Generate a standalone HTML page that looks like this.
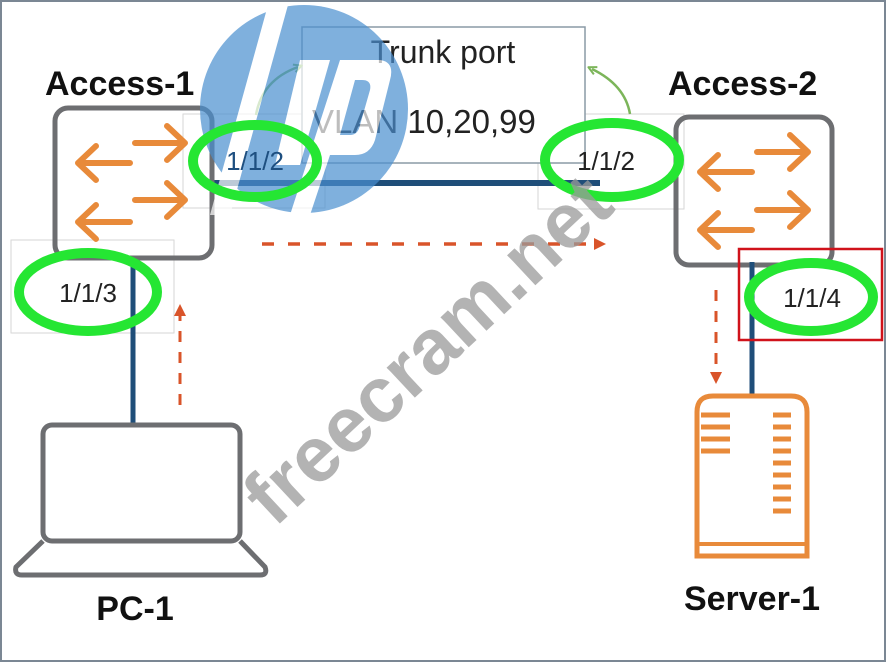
<!DOCTYPE html>
<html><head><meta charset="utf-8"><style>
html,body{margin:0;padding:0;background:#fff}
svg{display:block}
text{font-family:"Liberation Sans",sans-serif}
</style></head><body>
<svg width="886" height="662" viewBox="0 0 886 662" xmlns="http://www.w3.org/2000/svg">
<defs>
<marker id="ah" markerWidth="12" markerHeight="12" refX="6" refY="6" orient="auto" markerUnits="userSpaceOnUse" viewBox="0 0 12 12"><path d="M0,0 L12,6 L0,12 z" fill="#d9542a"/></marker>
<marker id="ag" markerWidth="10" markerHeight="10" refX="5" refY="5" orient="auto" markerUnits="userSpaceOnUse" viewBox="0 0 10 10"><path d="M1,1 L9,5 L1,9" fill="none" stroke="#7cb55a" stroke-width="2"/></marker>
</defs>
<rect x="1" y="1" width="884" height="660" fill="#fff" stroke="#7b8794" stroke-width="2"/>

<rect x="183" y="114" width="142" height="94" fill="none" stroke="#d6d6d6" stroke-width="1"/>
<rect x="538" y="114" width="146" height="95" fill="none" stroke="#d6d6d6" stroke-width="1"/>
<rect x="11" y="240" width="163" height="93" fill="none" stroke="#d6d6d6" stroke-width="1"/>

<rect x="302" y="27" width="283" height="136" fill="#fff" stroke="#8a9aa6" stroke-width="1.5"/>
<text x="443" y="63" font-size="32" text-anchor="middle" fill="#222">Trunk port</text>
<text x="312" y="133" font-size="33" fill="#222">VLAN 10,20,99</text>

<line x1="210" y1="183" x2="600" y2="183" stroke="#1f4e79" stroke-width="6"/>

<path d="M256,115 Q262,80 298,67" fill="none" stroke="#7cb55a" stroke-width="2.5" marker-end="url(#ag)"/>
<path d="M630,114 Q625,85 592,69" fill="none" stroke="#7cb55a" stroke-width="2.5" marker-end="url(#ag)"/>

<text x="45" y="95" font-size="34" font-weight="bold" fill="#111">Access-1</text>
<rect x="55" y="108" width="157" height="150" rx="13" fill="none" stroke="#6d6e71" stroke-width="5"/>
<g stroke="#e88a3a" stroke-width="6" fill="none" stroke-linecap="round" stroke-linejoin="round">
<path d="M135,143 H185 M167,126 L185,143 L167,160"/>
<path d="M130,163 H78 M96,146 L78,163 L96,180"/>
<path d="M135,200 H185 M167,183 L185,200 L167,217"/>
<path d="M130,222 H78 M96,205 L78,222 L96,239"/>
</g>
<text x="668" y="95" font-size="34" font-weight="bold" fill="#111">Access-2</text>
<rect x="676" y="117" width="156" height="148" rx="13" fill="none" stroke="#6d6e71" stroke-width="5"/>
<g stroke="#e88a3a" stroke-width="6" fill="none" stroke-linecap="round" stroke-linejoin="round">
<path d="M757,152 H808 M790,135 L808,152 L790,169"/>
<path d="M752,172 H700 M718,155 L700,172 L718,189"/>
<path d="M757,210 H808 M790,193 L808,210 L790,227"/>
<path d="M752,230 H700 M718,213 L700,230 L718,247"/>
</g>

<line x1="133" y1="258" x2="133" y2="425" stroke="#1f4e79" stroke-width="5"/>
<line x1="752" y1="262" x2="752" y2="395" stroke="#1f4e79" stroke-width="5"/>

<line x1="262" y1="244" x2="600" y2="244" stroke="#d9542a" stroke-width="3.5" stroke-dasharray="12,14" marker-end="url(#ah)"/>
<line x1="180" y1="405" x2="180" y2="310" stroke="#d9542a" stroke-width="3" stroke-dasharray="11,10" marker-end="url(#ah)"/>
<line x1="716" y1="290" x2="716" y2="378" stroke="#d9542a" stroke-width="3" stroke-dasharray="11,10" marker-end="url(#ah)"/>

<rect x="739" y="249" width="143" height="91" fill="none" stroke="#d0121b" stroke-width="2.5"/>

<!-- HP watermark -->
<g opacity="0.7">
<circle cx="304" cy="109" r="104" fill="#4a8fd0"/>
<path d="M268,5 L288,5 L230,215 L210,215 Z" fill="#fff"/>
<path d="M300,60 L330,60 L300,165 L275,165 Z" fill="#fff"/>
<path d="M340,60 L380,60 Q395,62 390,80 L375,140 Q370,155 355,155 L330,155 L310,215 L290,215 Z M355,80 L340,135 L350,135 Q358,135 360,125 L370,90 Q372,80 362,80 Z" fill="#fff" fill-rule="evenodd"/>
</g>

<g fill="none" stroke="#25e633" stroke-width="10">
<ellipse cx="255" cy="161" rx="62" ry="36"/>
<ellipse cx="612" cy="160" rx="67" ry="37"/>
<ellipse cx="88" cy="292" rx="69" ry="39"/>
<ellipse cx="811" cy="297" rx="62" ry="34"/>
</g>
<g font-size="26" fill="#222" text-anchor="middle">
<text x="255" y="170" fill="#1e4f80">1/1/2</text>
<text x="606" y="170">1/1/2</text>
<text x="88" y="302">1/1/3</text>
<text x="812" y="307">1/1/4</text>
</g>

<rect x="43" y="425" width="197" height="116" rx="9" fill="none" stroke="#6d6e71" stroke-width="5"/>
<path d="M43,541 L16,567 Q14,575 22,575 L260,575 Q268,575 265,567 L240,541" fill="none" stroke="#6d6e71" stroke-width="5" stroke-linejoin="round"/>
<text x="135" y="620" font-size="34" font-weight="bold" text-anchor="middle" fill="#111">PC-1</text>

<path d="M697,556 V412 Q697,396 713,396 H791 Q807,396 807,412 V556 Z" fill="none" stroke="#e88a3a" stroke-width="5"/>
<line x1="697" y1="544" x2="807" y2="544" stroke="#e88a3a" stroke-width="4"/>
<g stroke="#e88a3a" stroke-width="5">
<line x1="701" y1="415" x2="730" y2="415"/><line x1="701" y1="427" x2="730" y2="427"/><line x1="701" y1="439" x2="730" y2="439"/><line x1="701" y1="451" x2="730" y2="451"/>
<line x1="773" y1="415" x2="791" y2="415"/><line x1="773" y1="427" x2="791" y2="427"/><line x1="773" y1="439" x2="791" y2="439"/><line x1="773" y1="451" x2="791" y2="451"/><line x1="773" y1="463" x2="791" y2="463"/><line x1="773" y1="475" x2="791" y2="475"/><line x1="773" y1="487" x2="791" y2="487"/><line x1="773" y1="499" x2="791" y2="499"/><line x1="773" y1="511" x2="791" y2="511"/>
</g>
<text x="752" y="610" font-size="34" font-weight="bold" text-anchor="middle" fill="#111">Server-1</text>

<text x="430" y="375" font-size="78" font-weight="bold" fill="#9a9a9a" opacity="0.75" text-anchor="middle" transform="rotate(-43 430 352)">freecram.net</text>
</svg>
</body></html>
